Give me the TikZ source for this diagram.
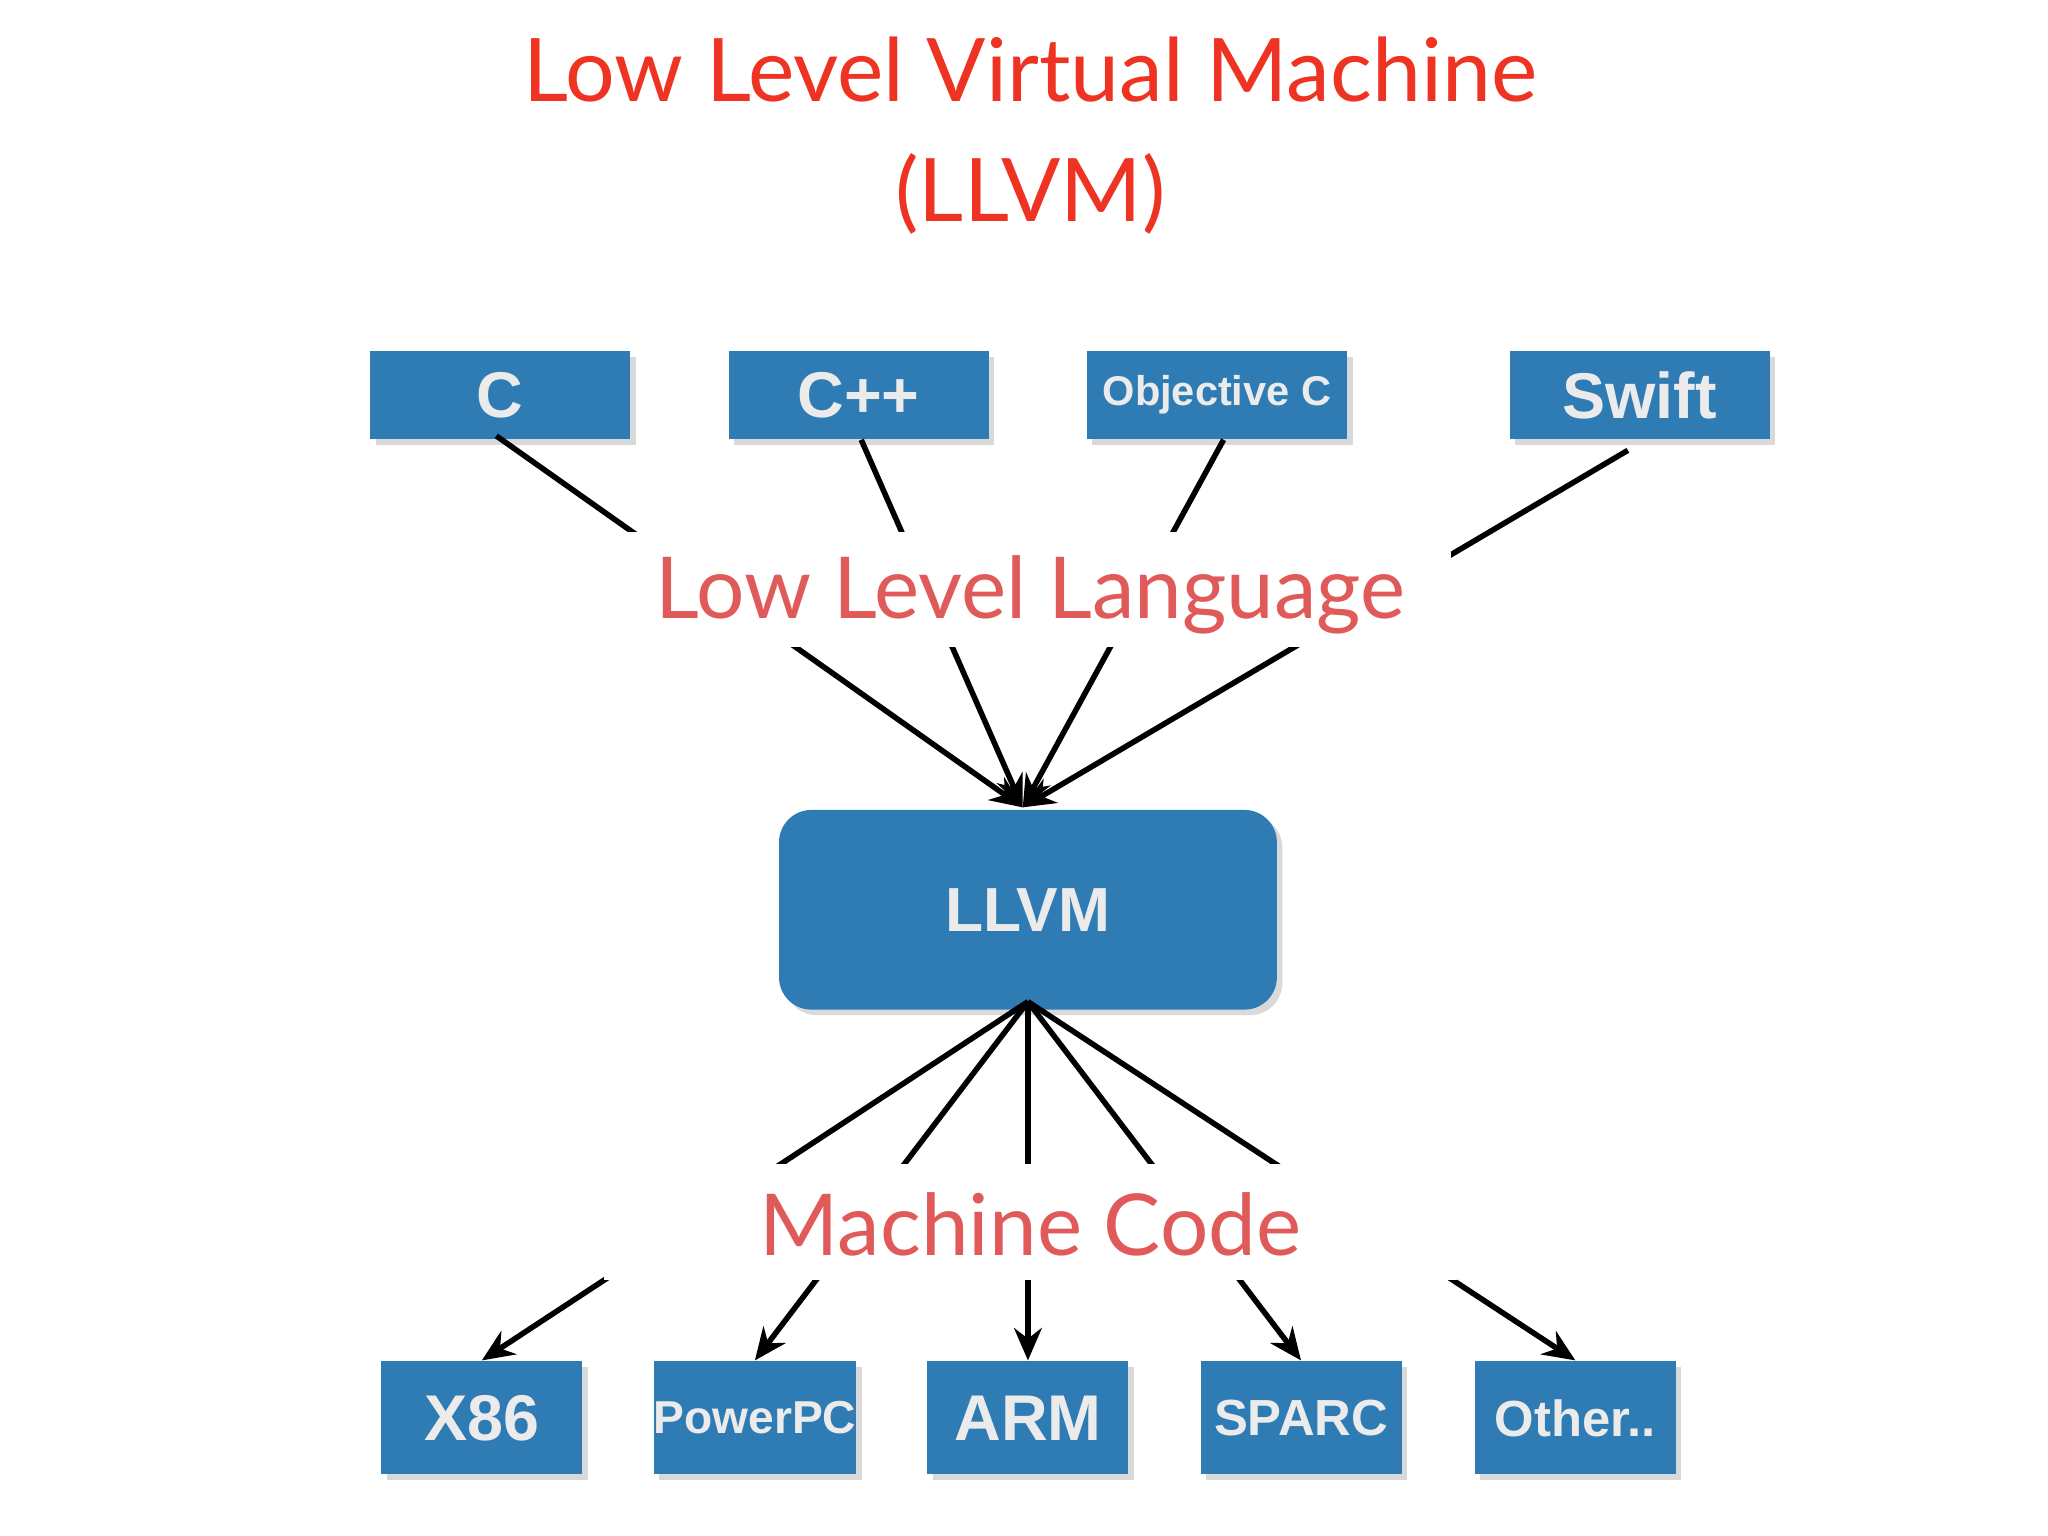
\documentclass[tikz,border=0pt]{standalone}
\usepackage{fontspec}
\setmainfont{Liberation Sans}
\newfontfamily\lightf{Lato}
\usetikzlibrary{shadows,arrows.meta}
\definecolor{boxblue}{HTML}{2F7CB5}
\definecolor{titlered}{HTML}{EE3322}
\definecolor{labred}{HTML}{E05A5A}
\begin{document}
\begin{tikzpicture}[x=0.01cm,y=-0.01cm,
  box/.style={fill=boxblue,draw=none,text=white!92!black,font=\bfseries,inner sep=0pt,
     drop shadow={shadow xshift=1.2pt,shadow yshift=-1.2pt,opacity=0.3}},
  top/.style={box,minimum width=1.98cm,minimum height=0.67cm},
  bot/.style={box,minimum width=1.53cm,minimum height=0.86cm},
  lab/.style={text=labred,font=\lightf\fontsize{18.5}{22}\selectfont,inner sep=0pt},
  ln/.style={line width=1.2pt,black},
  arr/.style={ln,-{Stealth[length=7pt,width=6pt]}}]
\useasboundingbox (0,0) rectangle (1560,1170);
\node[text=titlered,font=\lightf\fontsize{19}{26}\selectfont,align=center] (title) at (785,103) {Low Level Virtual Machine\\(LLVM)};
% top boxes
\node[top,font=\bfseries\fontsize{14}{16}\selectfont] (c) at (381,301) {C};
\node[top,font=\bfseries\fontsize{14}{16}\selectfont] (cpp) at (654,301) {C++};
\node[top,font=\bfseries\fontsize{9}{11}\selectfont] (objc) at (927,301) {Objective C};
\node[top,font=\bfseries\fontsize{14}{16}\selectfont] (swift) at (1249,301) {Swift};
% LLVM
\node[box,rounded corners=7pt,minimum width=3.79cm,minimum height=1.52cm,font=\bfseries\fontsize{13.5}{16}\selectfont] (llvm) at (783,693) {LLVM};
% bottom boxes
\node[bot,font=\bfseries\fontsize{14}{16}\selectfont] (x86) at (367,1080) {X86};
\node[bot,font=\bfseries\fontsize{10}{12}\selectfont] (ppc) at (575,1080) {PowerPC};
\node[bot,font=\bfseries\fontsize{14}{16}\selectfont] (arm) at (783,1080) {ARM};
\node[bot,font=\bfseries\fontsize{11}{13}\selectfont] (sparc) at (991,1080) {SPARC};
\node[bot,font=\bfseries\fontsize{11}{13}\selectfont] (other) at (1200,1080) {Other..};
\coordinate (tin) at (779,615);
\coordinate (hub) at (783,763);
% connectors
\draw[arr] (378,332) -- (tin);
\draw[arr] (656,335) -- (tin);
\draw[arr] (932,335) -- (tin);
\draw[arr] (1240,343) -- (tin);
\draw[arr] (hub) -- (x86.north);
\draw[arr] (hub) -- (ppc.north);
\draw[arr] (hub) -- (arm.north);
\draw[arr] (hub) -- (sparc.north);
\draw[arr] (hub) -- (other.north);
% labels masking lines
\fill[white] (470,405) rectangle (1105,493);
\node[lab] (lll) at (785,453) {Low Level Language};
\fill[white] (460,887) rectangle (1110,975);
\node[lab] (mc) at (785,933) {Machine Code};
\end{tikzpicture}
\end{document}
